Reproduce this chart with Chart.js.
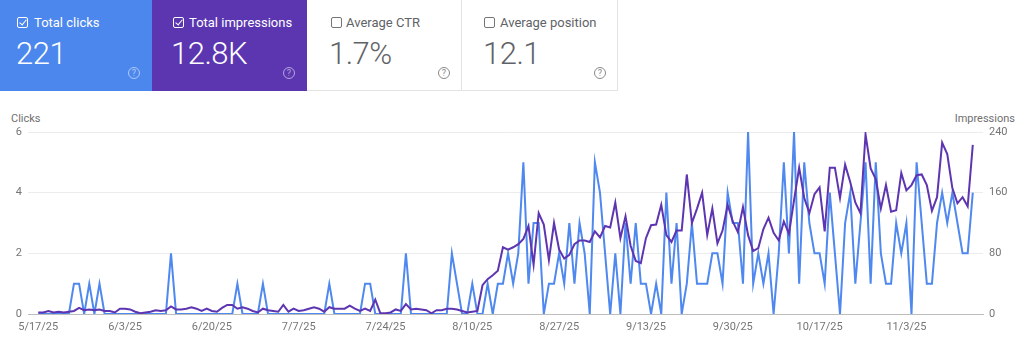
<!DOCTYPE html>
<html>
<head>
<meta charset="utf-8">
<script src="https://cdn.jsdelivr.net/npm/chart.js@4/dist/chart.umd.min.js"></script>
<style>
  body { margin: 0; width: 1024px; height: 358px; overflow: hidden; background: #fff; position: relative;
         font-family: Roboto, Arial, sans-serif; }
  .card { position: absolute; top: 0; height: 91px; box-sizing: border-box; }
  .card.clicks { background: #4c87ed; color: #fff; }
  .card.impr { background: #5b36b0; color: #fff; }
  .card.plain { background: #fff; color: #5f6368; border-right: 1px solid #e3e3e3; border-bottom: 1px solid #e3e3e3; }
  .box { position: absolute; top: 17px; width: 11px; height: 11px; box-sizing: border-box; border: 1.5px solid currentColor; border-radius: 2px; }
  .card.plain .box { border-color: #757575; }
  .box.on::after { content: ""; position: absolute; left: 2.5px; top: 0px; width: 3px; height: 6px;
                   border: solid currentColor; border-width: 0 1.5px 1.5px 0; transform: rotate(40deg); }
  .lbl { position: absolute; top: 15px; font-size: 13px; line-height: 16px; white-space: nowrap; }
  .num { position: absolute; top: 38px; font-size: 31px; line-height: 31px; font-weight: 300; letter-spacing: -0.5px; white-space: nowrap; }
  .help { position: absolute; top: 67px; width: 12px; height: 12px; box-sizing: border-box; border-radius: 50%;
          border: 1px solid; font-size: 9px; line-height: 10px; text-align: center; }
  .card.clicks .help, .card.impr .help { border-color: rgba(255,255,255,0.55); color: rgba(255,255,255,0.55); }
  .card.plain .help { border-color: #8a8a8a; color: #8a8a8a; }
  .axis-title { position: absolute; top: 112px; font-size: 11px; color: #6f6f6f; }
  #chart { position: absolute; left: 0; top: 100px; }
</style>
</head>
<body>

<div class="card clicks" style="left:0;width:152px">
  <span class="box on" style="left:17px"></span>
  <span class="lbl" style="left:34px">Total clicks</span>
  <span class="num" style="left:16px">221</span>
  <span class="help" style="left:128px">?</span>
</div>
<div class="card impr" style="left:152px;width:155px">
  <span class="box on" style="left:21px"></span>
  <span class="lbl" style="left:37px">Total impressions</span>
  <span class="num" style="left:19px">12.8K</span>
  <span class="help" style="left:131px">?</span>
</div>
<div class="card plain" style="left:307px;width:155px">
  <span class="box" style="left:24px"></span>
  <span class="lbl" style="left:39px">Average CTR</span>
  <span class="num" style="left:22px">1.7%</span>
  <span class="help" style="left:131px">?</span>
</div>
<div class="card plain" style="left:462px;width:156px">
  <span class="box" style="left:22px"></span>
  <span class="lbl" style="left:38px">Average position</span>
  <span class="num" style="left:21px">12.1</span>
  <span class="help" style="left:132px">?</span>
</div>

<div class="axis-title" style="left:11px">Clicks</div>
<div class="axis-title" style="right:9px">Impressions</div>

<canvas id="chart" width="1024" height="258"></canvas>

<script>
// daily values, 5/17/25 .. 11/16/25 (184 days)
var clicks = [
  0,0,0,0,0,0,0,1,1,0,
  1,0,1,0,0,0,0,0,0,0,
  0,0,0,0,0,0,2,0,0,0,
  0,0,0,0,0,0,0,0,0,1,
  0,0,0,0,1,0,0,0,0,0,
  0,0,0,0,0,0,0,1,0,0,
  0,0,0,0,1,1,0,0,0,0,
  0,0,2,0,0,0,0,0,0,0,
  0,2,1,0,0,1,0,0,1,0,
  1,1,2,1,2,5,1,3,3,0,
  1,1,2,1,3,1,3,2,0,5,
  4,2,0,2,0,3,1,3,1,1,
  0,1,0,4,1,3,0,1,3,1,
  1,1,2,2,1,4,3,3,1,6,
  1,2,1,2,0,2,5,2,6,1,
  5,3,2,2,1,4,2,0,3,4,
  1,3,5,1,5,2,1,1,3,2,
  3,0,5,3,1,1,3,4,3,4,
  3,2,2,4
];

var impressions = [
  2,2,4,2,3,2,3,4,8,5,
  6,5,6,4,4,2,7,7,6,3,
  1,2,3,5,4,5,10,6,6,7,
  9,7,4,7,4,3,8,12,12,7,
  9,7,4,2,7,5,4,3,12,3,
  7,4,5,7,9,7,3,9,7,7,
  7,11,7,4,7,4,19,1,1,2,
  6,4,13,6,7,6,5,1,5,5,
  7,7,6,4,2,3,4,38,46,51,
  57,88,85,88,92,99,116,65,133,118,
  71,120,85,73,78,92,97,97,95,109,
  101,116,114,147,100,129,90,70,67,100,
  117,118,144,104,95,110,110,184,120,139,
  160,104,139,93,110,144,122,108,141,104,
  83,87,112,127,107,97,122,106,150,193,
  153,133,158,167,109,193,193,153,197,174,
  147,133,237,192,178,139,170,135,137,186,
  163,170,183,184,170,136,154,226,211,166,
  146,154,142,223
];

// one label every 17 days from the first day
var tickLabels = ['5/17/25', '6/3/25', '6/20/25', '7/7/25', '7/24/25', '8/10/25',
                  '8/27/25', '9/13/25', '9/30/25', '10/17/25', '11/3/25'];
var tickStep = 17;

var clicksTicks = [0, 2, 4, 6];
var imprTicks = [0, 80, 160, 240];

Chart.defaults.font.family = 'Roboto';

function toPoints(arr) {
  return arr.map(function (v, i) { return { x: i, y: v }; });
}

var tickFont = { size: 11, family: 'Roboto' };

new Chart(document.getElementById('chart'), {
  type: 'line',
  data: {
    datasets: [{
      label: 'Clicks',
      data: toPoints(clicks),
      yAxisID: 'yClicks',
      borderColor: '#4f88ef',
      borderWidth: 2,
      pointRadius: 0,
      tension: 0,
      order: 1
    }, {
      label: 'Impressions',
      data: toPoints(impressions),
      yAxisID: 'yImpr',
      borderColor: '#5e35b1',
      borderWidth: 2,
      pointRadius: 0,
      tension: 0,
      order: 0
    }]
  },
  options: {
    responsive: false,
    animation: false,
    layout: { padding: { top: 32, bottom: 14, left: 0, right: 0 } },
    plugins: { legend: { display: false }, tooltip: { enabled: false } },
    scales: {
      x: {
        type: 'linear',
        min: -2,
        max: 185,
        grid: { display: false, drawTicks: false },
        border: { display: true, color: '#bdbdbd', width: 1 },
        afterBuildTicks: function (s) {
          s.ticks = tickLabels.map(function (_, k) { return { value: k * tickStep }; });
        },
        afterFit: function (s) { s.height = 30; },
        ticks: {
          autoSkip: false,
          maxRotation: 0,
          padding: 7,
          color: '#757575',
          font: tickFont,
          callback: function (v) { return tickLabels[Math.round(v / tickStep)]; }
        }
      },
      yClicks: {
        position: 'left',
        min: 0,
        max: 6,
        afterBuildTicks: function (s) {
          s.ticks = clicksTicks.map(function (v) { return { value: v }; });
        },
        afterFit: function (s) { s.width = 28; },
        grid: {
          drawTicks: false,
          color: function (c) { return c.tick && c.tick.value === 0 ? '#bdbdbd' : '#ececec'; }
        },
        border: { display: false },
        ticks: { padding: 6, color: '#757575', font: tickFont }
      },
      yImpr: {
        position: 'right',
        min: 0,
        max: 240,
        afterBuildTicks: function (s) {
          s.ticks = imprTicks.map(function (v) { return { value: v }; });
        },
        afterFit: function (s) { s.width = 41; },
        grid: { display: false, drawTicks: false },
        border: { display: false },
        ticks: { padding: 6, color: '#757575', font: tickFont }
      }
    }
  }
});
</script>
</body>
</html>
